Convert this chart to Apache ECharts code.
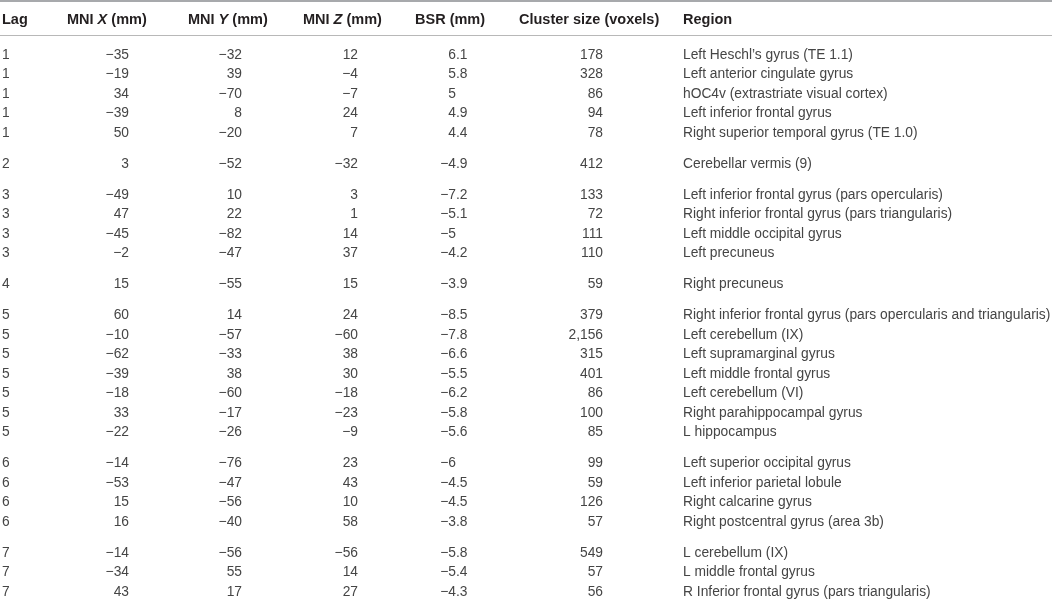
<!DOCTYPE html>
<html>
<head>
<meta charset="utf-8">
<script src="https://cdn.jsdelivr.net/npm/echarts@6/dist/echarts.min.js"></script>
<style>
  html, body { margin: 0; padding: 0; background: #fff; }
  #main { width: 1052px; height: 601px; }
</style>
</head>
<body>
<div id="main"></div>
<script>
// table data, one entry per row
const lag = [1, 1, 1, 1, 1, 2, 3, 3, 3, 3, 4, 5, 5, 5, 5, 5, 5, 5, 6, 6, 6, 6, 7, 7, 7];
const mniX = [-35, -19, 34, -39, 50, 3, -49, 47, -45, -2, 15, 60, -10, -62, -39, -18, 33, -22, -14, -53, 15, 16, -14, -34, 43];
const mniY = [-32, 39, -70, 8, -20, -52, 10, 22, -82, -47, -55, 14, -57, -33, 38, -60, -17, -26, -76, -47, -56, -40, -56, 55, 17];
const mniZ = [12, -4, -7, 24, 7, -32, 3, 1, 14, 37, 15, 24, -60, 38, 30, -18, -23, -9, 23, 43, 10, 58, -56, 14, 27];
const bsr = [6.1, 5.8, 5, 4.9, 4.4, -4.9, -7.2, -5.1, -5, -4.2, -3.9, -8.5, -7.8, -6.6, -5.5, -6.2, -5.8, -5.6, -6, -4.5, -4.5, -3.8, -5.8, -5.4, -4.3];
const clusterSize = [178, 328, 86, 94, 78, 412, 133, 72, 111, 110, 59, 379, 2156, 315, 401, 86, 100, 85, 99, 59, 126, 57, 549, 57, 56];
const region = [
  'Left Heschl\u2019s gyrus (TE 1.1)',
  'Left anterior cingulate gyrus',
  'hOC4v (extrastriate visual cortex)',
  'Left inferior frontal gyrus',
  'Right superior temporal gyrus (TE 1.0)',
  'Cerebellar vermis (9)',
  'Left inferior frontal gyrus (pars opercularis)',
  'Right inferior frontal gyrus (pars triangularis)',
  'Left middle occipital gyrus',
  'Left precuneus',
  'Right precuneus',
  'Right inferior frontal gyrus (pars opercularis and triangularis)',
  'Left cerebellum (IX)',
  'Left supramarginal gyrus',
  'Left middle frontal gyrus',
  'Left cerebellum (VI)',
  'Right parahippocampal gyrus',
  'L hippocampus',
  'Left superior occipital gyrus',
  'Left inferior parietal lobule',
  'Right calcarine gyrus',
  'Right postcentral gyrus (area 3b)',
  'L cerebellum (IX)',
  'L middle frontal gyrus',
  'R Inferior frontal gyrus (pars triangularis)'
];

// layout (row units on the y axis, pixels on the x axis)
const ROW_MIN = -2.82;
const ROW_MAX = 28.0;
const HEADER_ROW = -1.8;
const GROUP_GAP = 0.59;

const HEAD_FONT = 'bold 14.5px "Liberation Sans", Arial, sans-serif';
const HEAD_FONT_I = 'italic bold 14.5px "Liberation Sans", Arial, sans-serif';
const BODY_FONT = '13.8px "Liberation Sans", Arial, sans-serif';
const HEAD_COLOR = '#231f20';
const BODY_COLOR = '#454545';

function fmt(v) {
  let s = Math.abs(v).toString();
  if (Math.abs(v) >= 1000) s = s.replace(/\B(?=(\d{3})+(?!\d))/g, ',');
  return (v < 0 ? '\u2212' : '') + s;
}

// row positions: one unit per row, extra gap where the lag changes
const rowSlot = [];
let grp = 0;
for (let i = 0; i < lag.length; i++) {
  if (i > 0 && lag[i] !== lag[i - 1]) grp++;
  rowSlot.push(i + grp * GROUP_GAP);
}

function txt(x, y, text, align, font, fill) {
  return {
    type: 'text',
    style: {
      x: x, y: y, text: text, font: font || BODY_FONT, fill: fill || BODY_COLOR,
      align: align, verticalAlign: 'middle'
    }
  };
}

function renderRow(params, api) {
  const i = params.dataIndex;
  const y = api.coord([0, api.value(1)])[1];
  const cx = v => api.coord([v, 0])[0];
  const b = fmt(bsr[i]).split('.');
  const kids = [
    txt(cx(2), y, String(lag[i]), 'left'),
    txt(cx(129), y, fmt(mniX[i]), 'right'),
    txt(cx(242), y, fmt(mniY[i]), 'right'),
    txt(cx(358), y, fmt(mniZ[i]), 'right'),
    txt(cx(456), y, b[0], 'right'),
    txt(cx(603), y, fmt(clusterSize[i]), 'right'),
    txt(cx(683), y, region[i], 'left')
  ];
  if (b.length > 1) kids.push(txt(cx(456), y, '.' + b[1], 'left'));
  return { type: 'group', children: kids };
}

function headRich(pre, it) {
  return {
    type: 'text',
    style: {
      text: '{b|' + pre + '}{i|' + it + '}{b| (mm)}',
      verticalAlign: 'middle', align: 'left',
      rich: {
        b: { font: HEAD_FONT, fill: HEAD_COLOR },
        i: { font: HEAD_FONT_I, fill: HEAD_COLOR }
      }
    }
  };
}

function renderHeader(params, api) {
  const y = api.coord([0, api.value(1)])[1];
  const cx = v => api.coord([v, 0])[0];
  const place = (el, x) => { el.style.x = x; el.style.y = y; return el; };
  return {
    type: 'group',
    children: [
      txt(cx(2), y, 'Lag', 'left', HEAD_FONT, HEAD_COLOR),
      place(headRich('MNI ', 'X'), cx(67)),
      place(headRich('MNI ', 'Y'), cx(188)),
      place(headRich('MNI ', 'Z'), cx(303)),
      txt(cx(415), y, 'BSR (mm)', 'left', HEAD_FONT, HEAD_COLOR),
      txt(cx(519), y, 'Cluster size (voxels)', 'left', HEAD_FONT, HEAD_COLOR),
      txt(cx(683), y, 'Region', 'left', HEAD_FONT, HEAD_COLOR)
    ]
  };
}

const chart = echarts.init(document.getElementById('main'));
chart.setOption({
  animation: false,
  backgroundColor: '#fff',
  grid: { left: 0, right: 0, top: 0, bottom: 0 },
  xAxis: { type: 'value', min: 0, max: 1052, show: false },
  yAxis: { type: 'value', min: ROW_MIN, max: ROW_MAX, inverse: true, show: false },
  graphic: [
    { type: 'rect', shape: { x: 0, y: 0, width: 1052, height: 2 }, style: { fill: '#a7a9ac' } },
    { type: 'rect', shape: { x: 0, y: 35, width: 1052, height: 1 }, style: { fill: '#b8b8b8' } }
  ],
  series: [
    {
      type: 'custom',
      clip: false,
      silent: true,
      data: [[0, HEADER_ROW]],
      renderItem: renderHeader
    },
    {
      type: 'custom',
      clip: false,
      silent: true,
      data: rowSlot.map(s => [0, s]),
      renderItem: renderRow
    }
  ]
});
</script>
</body>
</html>
